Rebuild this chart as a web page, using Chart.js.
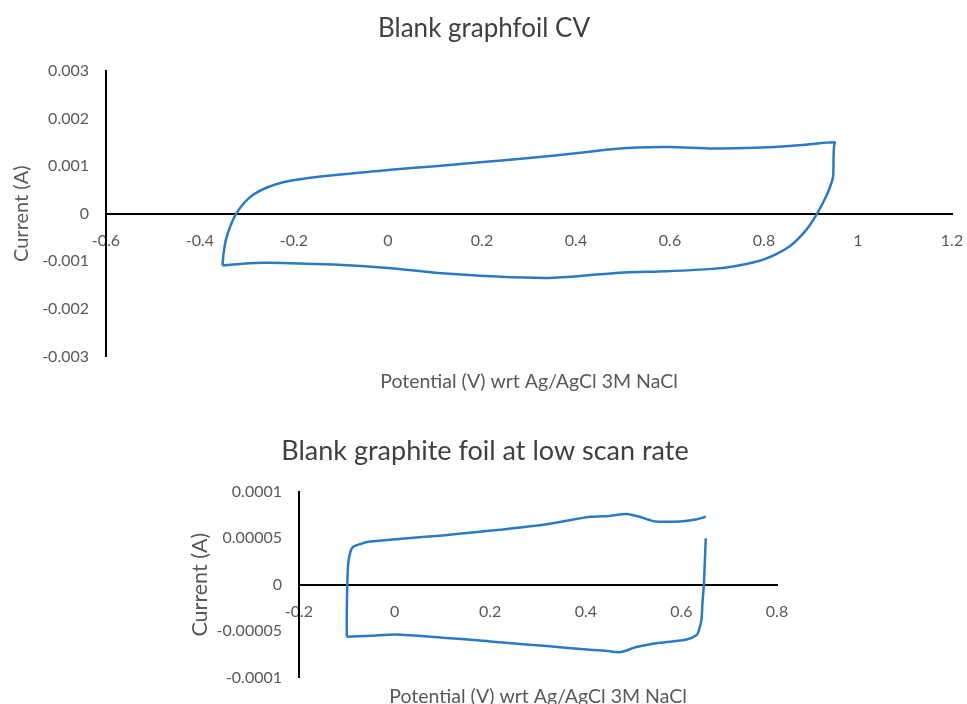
<!DOCTYPE html>
<html>
<head>
	<meta charset="utf-8">
	<title>Blank graphite foil CV</title>
	<script src="https://cdn.jsdelivr.net/npm/chart.js@4.4.1/dist/chart.umd.min.js"></script>
	<style>
		html, body { margin: 0; padding: 0; width: 967px; height: 704px; overflow: hidden; background: #fff; }
		#cvChart { position: absolute; left: 0; top: 0; }
		#lowChart { position: absolute; left: 0; top: 395px; }
	</style>
</head>
<body>
	<canvas id="cvChart" width="967" height="395"></canvas>
	<canvas id="lowChart" width="967" height="315"></canvas>

	<script>
		// ------------------------------------------------------------------
		// Data (potential in V, current in A)
		// ------------------------------------------------------------------

		// Top chart: blank graphfoil CV (forward scan, then reverse scan)
		var cvPotential = [
			-0.352, -0.350, -0.345, -0.335, -0.323, -0.305, -0.287, -0.260, -0.223, -0.170,
			-0.117, -0.050, 0.000, 0.100, 0.196, 0.300, 0.400, 0.470, 0.530, 0.600,
			0.690, 0.760, 0.820, 0.890, 0.950,
			0.949, 0.948, 0.947, 0.940, 0.932, 0.913, 0.890, 0.854, 0.800, 0.740,
			0.691, 0.592, 0.493, 0.408, 0.337, 0.231, 0.100, 0.000, -0.116, -0.258,
			-0.310, -0.352
		];
		var cvCurrent = [
			-0.00109, -0.00085, -0.00055, -0.00025, 0.00000, 0.00024, 0.00040, 0.00054, 0.00066, 0.00075,
			0.00081, 0.00087, 0.00092, 0.00100, 0.00108, 0.00117, 0.00127, 0.00135, 0.00139, 0.00140,
			0.00137, 0.00138, 0.00140, 0.00145, 0.00150,
			0.00142, 0.00120, 0.00078, 0.00055, 0.00036, 0.00000, -0.00034, -0.00069, -0.00096, -0.00110,
			-0.00116, -0.00121, -0.00124, -0.00131, -0.00135, -0.00132, -0.00124, -0.00114, -0.00107, -0.00103,
			-0.00105, -0.00109
		];

		// Bottom chart: low scan rate (null = break between the two scans)
		var lowPotential = [
			-0.100, -0.100, -0.099, -0.097, -0.092, -0.086, -0.070, -0.058, 0.003, 0.100,
			0.179, 0.220, 0.318, 0.409, 0.450, 0.486, 0.513, 0.545, 0.597, 0.630,
			0.651,
			0.651,
			0.651, 0.649, 0.647, 0.644, 0.642, 0.636, 0.632, 0.611, 0.555, 0.506,
			0.472, 0.440, 0.409, 0.318, 0.220, 0.179, 0.100, 0.003, -0.050, -0.100
		];
		var lowCurrent = [
			-0.000056, -0.000030, 0.000000, 0.000023, 0.000036, 0.000041, 0.000044, 0.000046, 0.000049, 0.000053,
			0.000057, 0.000059, 0.000065, 0.000073, 0.000074, 0.000076, 0.000073, 0.000068, 0.000068, 0.000070,
			0.000073,
			null,
			0.000050, 0.000025, 0.000000, -0.000020, -0.0000375, -0.000050, -0.000054, -0.000059, -0.0000625, -0.000067,
			-0.0000725, -0.000071, -0.000070, -0.000066, -0.000062, -0.000060, -0.000057, -0.0000536, -0.000055, -0.000056
		];

		// Axis ranges and tick steps: [min, max, step]
		var cvXRange = [-0.6, 1.2, 0.2];
		var cvYRange = [-0.003, 0.003, 0.001];
		var lowXRange = [-0.2, 0.8, 0.2];
		var lowYRange = [-0.0001, 0.0001, 0.00005];

		var xTitle = 'Potential (V) wrt Ag/AgCl 3M NaCl';
		var yTitle = 'Current (A)';

		// ------------------------------------------------------------------
		// Style
		// ------------------------------------------------------------------
		var FONT = 'Lato';
		var LINE_BLUE = '#2a7bc3';
		var TEXT_GREY = '#595959';

		// plain number labels, no floating point noise
		function fmt(v) {
			return String(parseFloat(Number(v).toFixed(6)));
		}

		function toPoints(xs, ys) {
			return xs.map(function (x, i) { return { x: x, y: ys[i] }; });
		}

		function drawCV(id, o) {
			return new Chart(document.getElementById(id), {
				type: 'scatter',
				data: {
					datasets: [{
						data: toPoints(o.potential, o.current),
						showLine: true,
						spanGaps: false,
						borderColor: LINE_BLUE,
						borderWidth: 2.5,
						pointRadius: 0,
						tension: 0.25
					}]
				},
				options: {
					responsive: false,
					animation: false,
					layout: { padding: o.padding },
					plugins: {
						legend: { display: false },
						tooltip: { enabled: false },
						title: {
							display: true,
							text: o.title,
							color: '#404040',
							font: { family: FONT, size: o.titleSize, weight: 'normal' },
							padding: o.titlePad
						},
						// x axis title, centred under the plot area
						subtitle: {
							display: true,
							text: xTitle,
							position: 'bottom',
							fullSize: false,
							color: TEXT_GREY,
							font: { family: FONT, size: 19.5 },
							padding: o.subPad
						}
					},
					scales: {
						x: {
							type: 'linear',
							position: { y: 0 },
							min: o.xRange[0],
							max: o.xRange[1],
							grid: { display: false, drawTicks: false },
							border: { display: true, color: '#000', width: 2 },
							ticks: {
								stepSize: o.xRange[2],
								autoSkip: false,
								maxRotation: 0,
								padding: 18,
								color: TEXT_GREY,
								font: { family: FONT, size: 16 },
								callback: fmt
							},
							afterFit: function (s) {
								s.height = 0;
								s.paddingLeft = 0;
								s.paddingRight = 0;
							}
						},
						y: {
							type: 'linear',
							min: o.yRange[0],
							max: o.yRange[1],
							grid: { display: false, drawTicks: false },
							border: { display: true, color: '#000', width: 2 },
							ticks: {
								stepSize: o.yRange[2],
								padding: 17,
								color: TEXT_GREY,
								font: { family: FONT, size: 16 },
								callback: fmt
							},
							title: {
								display: true,
								text: yTitle,
								color: TEXT_GREY,
								font: { family: FONT, size: o.yTitleSize },
								padding: { top: o.yTitleTop, bottom: 0 }
							},
							afterFit: function (s) { s.width = o.yWidth; }
						}
					}
				}
			});
		}

		// ------------------------------------------------------------------
		// Charts
		// ------------------------------------------------------------------
		drawCV('cvChart', {
			title: 'Blank graphfoil CV',
			potential: cvPotential,
			current: cvCurrent,
			xRange: cvXRange,
			yRange: cvYRange,
			padding: { left: 16, right: 15, top: 0, bottom: 0 },
			titleSize: 26,
			titlePad: { top: 13, bottom: 26.8 },
			subPad: { top: 13.9, bottom: 1.3 },
			yWidth: 90,
			yTitleSize: 20,
			yTitleTop: -6
		});

		drawCV('lowChart', {
			title: 'Blank graphite foil at low scan rate',
			potential: lowPotential,
			current: lowCurrent,
			xRange: lowXRange,
			yRange: lowYRange,
			padding: { left: 193, right: 190, top: 0, bottom: 0 },
			titleSize: 27,
			titlePad: { top: 39.8, bottom: 24.5 },
			subPad: { top: 7.6, bottom: 1.3 },
			yWidth: 106,
			yTitleSize: 21.5,
			yTitleTop: -5.9
		});
	</script>
</body>
</html>
